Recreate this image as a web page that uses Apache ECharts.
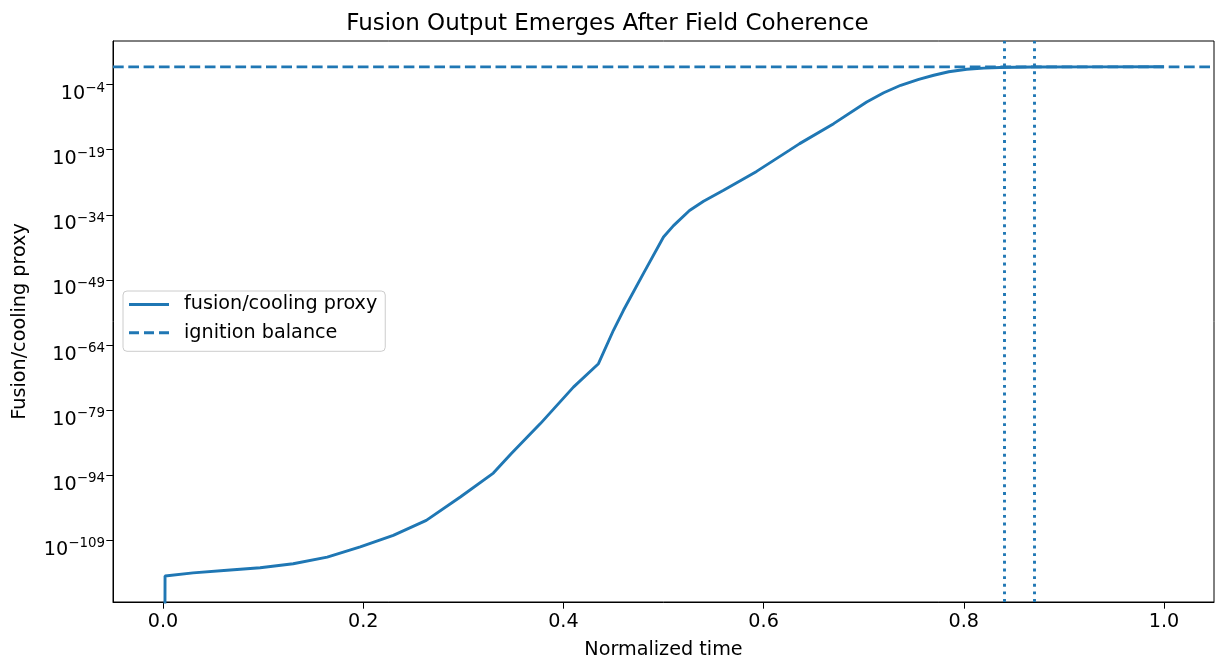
<!DOCTYPE html>
<html>
<head>
<meta charset="utf-8">
<script src="https://cdn.jsdelivr.net/npm/echarts@6/dist/echarts.min.js"></script>
<style>
  html, body { margin: 0; padding: 0; background: #fff; }
  #chart { width: 1215px; height: 667px; }
</style>
</head>
<body>
<div id="chart"></div>
<script>
// ---- data ----
const timeValues = [0.000, 0.002, 0.030, 0.064, 0.097, 0.130, 0.164, 0.197, 0.230, 0.263, 0.297, 0.330, 0.348, 0.377, 0.410, 0.435, 0.450, 0.460, 0.480, 0.500, 0.510, 0.526, 0.540, 0.560, 0.593, 0.626, 0.636, 0.670, 0.703, 0.720, 0.737, 0.755, 0.770, 0.785, 0.803, 0.820, 0.836, 0.869, 0.930, 1.000];
const proxyValues = [0, 6.3e-118, 3.2e-117, 1.3e-116, 5.0e-116, 4.0e-115, 1.4e-113, 3.2e-111, 1.4e-108, 4.0e-105, 1.0e-99, 3.2e-94, 1.0e-89, 7.9e-83, 2.0e-74, 5.0e-69, 2.5e-61, 1.0e-56, 3.2e-48, 7.9e-40, 3.2e-37, 1.0e-33, 1.3e-31, 4.5e-29, 1.0e-24, 7.9e-20, 2.5e-18, 1.0e-13, 1.0e-8, 1.3e-6, 6.9e-5, 1.6e-3, 1.4e-2, 8.9e-2, 0.34, 0.63, 0.83, 1.1, 1.2, 1.25];
const ignitionBalance = 1.2;
const markerTimes = [0.843, 0.869];
const xTicks = [0.0, 0.2, 0.4, 0.6, 0.8, 1.0];
const yTickExponents = [-109, -94, -79, -64, -49, -34, -19, -4];
const yLimitsExponent = [-123.2, 6.04];
const xLimits = [-0.05, 1.05];

// ---- build ----
const BLUE = '#1f77b4';
const FONT = 'DejaVu Sans';
const FS = 19.2;
// matplotlib clips non-positive values on a log axis to 1e-300
const toLog = v => v > 0 ? Math.log10(v) : -300;
const mainData = timeValues.map((t, i) => [t, toLog(proxyValues[i])]);
const balanceData = [[xLimits[0], Math.log10(ignitionBalance)], [xLimits[1], Math.log10(ignitionBalance)]];

const chart = echarts.init(document.getElementById('chart'), null, { renderer: 'canvas' });
chart.setOption({
  animation: false,
  backgroundColor: '#fff',
  textStyle: { fontFamily: FONT },
  title: {
    text: 'Fusion Output Emerges After Field Coherence',
    left: 'center', top: 8,
    textStyle: { fontFamily: FONT, fontSize: 23, fontWeight: 'normal', color: '#000' }
  },
  grid: {
    left: 113, top: 41, right: 1, bottom: 65,
    show: true, borderColor: '#000', borderWidth: 1, backgroundColor: 'transparent',
    containLabel: false
  },
  legend: {
    orient: 'vertical',
    left: 123, top: 291,
    padding: [4, 8, 9, 6],
    itemGap: 9.3,
    itemWidth: 40, itemHeight: 3,
    backgroundColor: 'rgba(255,255,255,0.8)',
    borderColor: '#cccccc', borderWidth: 1, borderRadius: 4,
    textStyle: { fontFamily: FONT, fontSize: FS, color: '#000', lineHeight: 19, padding: [0, 0, 0, 10] },
    data: [
      { name: 'fusion/cooling proxy', icon: 'path://M0,0h40v3h-40z' },
      { name: 'ignition balance', icon: 'path://M0,0h10v3h-10z M15,0h10v3h-10z M30,0h10v3h-10z' }
    ]
  },
  xAxis: {
    type: 'value',
    min: xLimits[0], max: xLimits[1],
    name: 'Normalized time',
    nameLocation: 'middle', nameGap: 39,
    nameTextStyle: { fontFamily: FONT, fontSize: FS, color: '#000' },
    axisLine: { show: true, onZero: false, lineStyle: { color: '#000', width: 1 } },
    axisTick: { show: true, inside: false, length: 6.7, lineStyle: { color: '#000' }, customValues: xTicks },
    axisLabel: { show: true, margin: 11, fontFamily: FONT, fontSize: FS, color: '#000', customValues: xTicks,
      formatter: v => v.toFixed(1) },
    splitLine: { show: false }
  },
  yAxis: {
    type: 'value',
    min: yLimitsExponent[0], max: yLimitsExponent[1],
    name: 'Fusion/cooling proxy',
    nameLocation: 'middle', nameGap: 83, nameRotate: 90,
    nameTextStyle: { fontFamily: FONT, fontSize: FS, color: '#000' },
    axisLine: { show: true, onZero: false, lineStyle: { color: '#000', width: 1 } },
    axisTick: { show: true, inside: false, length: 6.7, lineStyle: { color: '#000' }, customValues: yTickExponents },
    axisLabel: {
      show: true, margin: 8, customValues: yTickExponents,
      formatter: v => '{b|10}{s|\u2212' + Math.abs(Math.round(v)) + '}',
      rich: {
        b: { fontFamily: FONT, fontSize: FS, color: '#000', lineHeight: 20, padding: [10, 0, 10, 0], verticalAlign: 'top' },
        s: { fontFamily: FONT, fontSize: 13.4, color: '#000', lineHeight: 14, padding: [7, 0, 0, 0], verticalAlign: 'top' }
      }
    },
    splitLine: { show: false }
  },
  series: [
    {
      name: 'fusion/cooling proxy',
      type: 'line',
      data: mainData,
      showSymbol: false, symbol: 'none',
      clip: true,
      lineStyle: { color: BLUE, width: 2.9 },
      itemStyle: { color: BLUE },
      z: 3
    },
    {
      name: 'ignition balance',
      type: 'line',
      data: balanceData,
      showSymbol: false, symbol: 'none',
      lineStyle: { color: BLUE, width: 2.9, type: [10.7, 4.6] },
      itemStyle: { color: BLUE },
      z: 2,
      markLine: {
        silent: true, symbol: 'none',
        label: { show: false },
        lineStyle: { color: BLUE, width: 2.9, type: [2.9, 4.75] },
        data: markerTimes.map(t => ({ xAxis: t }))
      }
    }
  ]
});
</script>
</body>
</html>
